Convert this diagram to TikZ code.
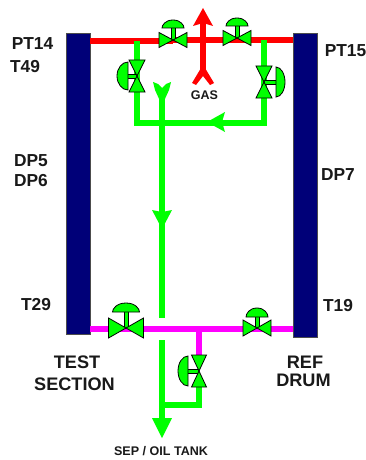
\documentclass[tikz,border=0pt]{standalone}
\usepackage{fontspec}
\setmainfont{Liberation Sans}
\definecolor{vgreen}{RGB}{0,255,0}
\definecolor{vred}{RGB}{255,0,0}
\definecolor{vmag}{RGB}{255,0,255}
\definecolor{vnavy}{RGB}{0,0,120}
\tikzset{
  vessel/.style={fill=vnavy,draw=black!70,line width=0.4pt,inner sep=0pt,outer sep=0pt,minimum width=18pt},
  gasline/.style={draw=vred,line width=4.4pt},
  oilline/.style={draw=vgreen,line width=4pt},
  magline/.style={draw=vmag,line width=4.4pt},
  valvebody/.style={fill=vgreen,draw=black,line width=0.6pt,line join=miter},
  lab/.style={font=\bfseries\fontsize{13}{15}\selectfont,text=black!90,inner sep=0pt,align=center},
  biglab/.style={font=\bfseries\fontsize{13.6}{16}\selectfont,text=black!90,inner sep=0pt,align=center},
  smalllab/.style={font=\bfseries\fontsize{9.4}{11}\selectfont,text=black!90,inner sep=0pt}
}
% #1 x, #2 y, #3 half-width, #4 half-height, #5 dome base y, #6 dome half-width, #7 dome top y
\newcommand{\upvalve}[7]{%
  \fill[vgreen] (#1-2,#2) rectangle (#1+2,#5);
  \draw[black,line width=0.5pt] (#1-2,#2) -- (#1-2,#5) (#1+2,#2) -- (#1+2,#5);
  \draw[valvebody] (#1-#6,#5) .. controls ({#1-#6},{#5+0.35*(#7-#5)}) and ({#1-0.7*#6},#7) .. (#1,#7) .. controls ({#1+0.7*#6},#7) and ({#1+#6},{#5+0.35*(#7-#5)}) .. (#1+#6,#5) -- cycle;
  \draw[valvebody] (#1-#3,#2-#4) -- (#1,#2) -- (#1-#3,#2+#4) -- cycle;
  \draw[valvebody] (#1+#3,#2-#4) -- (#1,#2) -- (#1+#3,#2+#4) -- cycle;
}
% #1 x, #2 y, #3 half-width, #4 half-height, #5 dome flat x, #6 dome half-height, #7 dome outer x
\newcommand{\sidevalve}[7]{%
  \fill[vgreen] (#1,#2-2) rectangle (#5,#2+2);
  \draw[black,line width=0.5pt] (#1,#2-2) -- (#5,#2-2) (#1,#2+2) -- (#5,#2+2);
  \draw[valvebody] (#5,#2-#6) .. controls ({#5+0.55*(#7-#5)},#2-#6) and (#7,{#2-0.55*#6}) .. (#7,#2) .. controls (#7,{#2+0.55*#6}) and ({#5+0.55*(#7-#5)},#2+#6) .. (#5,#2+#6) -- cycle;
  \draw[valvebody] (#1-#3,#2-#4) -- (#1,#2) -- (#1+#3,#2-#4) -- cycle;
  \draw[valvebody] (#1-#3,#2+#4) -- (#1,#2) -- (#1+#3,#2+#4) -- cycle;
}
\begin{document}
\begin{tikzpicture}[x=0.75pt,y=-0.75pt]
\useasboundingbox (0,0) rectangle (366,460);
\fill[white] (0,0) rectangle (366,460);

% vessels
\node[vessel,minimum height=225.75pt] (leftv) at (78,183.5) {};
\node[vessel,minimum height=228pt] (rightv) at (305,185) {};

% headers
\draw[gasline] (leftv.east |- 0,41) -- (173,41);
\draw[gasline] (173,40) -- (rightv.west |- 0,40);
\draw[magline] (leftv.east |- 0,329) -- (rightv.west |- 0,329);
\draw[magline] (199,329) -- (199,356);

% green loops
\draw[oilline,line join=miter] (137,41) -- (137,123) -- (264,123) -- (264,40);
\draw[oilline] (162,96) -- (162,318);
\draw[oilline] (162,340) -- (162,420);
\draw[oilline,line join=miter] (199,386) -- (199,405) -- (162,405);

% fork top of centre line
\fill[vgreen] (153,82) -- (158,84) -- (162,88) -- (166,84) -- (171,82) -- (169,90) -- (164,101) -- (160,101) -- (155,90) -- cycle;

% green arrowheads
\fill[vgreen] (207,122) -- (225,112) -- (222,122) -- (225,132) -- cycle;
\fill[vgreen] (162,229) -- (152,210) -- (162,212) -- (172,210) -- cycle;
\fill[vgreen] (162,438) -- (152,418) -- (172,418) -- cycle;

% gas arrow
\draw[vred,line width=4.5pt] (203,20) -- (203,72);
\fill[vred] (203,8) -- (213,26) -- (203,23) -- (193,26) -- cycle;
\fill[vred] (201,68) -- (205,68) -- (214,83) -- (210,85) -- (203,76) -- (196,85) -- (192,83) -- cycle;

% valves
\upvalve{173}{40}{14}{7.5}{28}{11}{20}
\upvalve{237}{38}{14}{7.5}{26}{11}{18}
\upvalve{126}{328}{17.5}{10}{312}{13.5}{303}
\upvalve{257}{328}{14}{8}{317}{11}{308}
\sidevalve{137}{76}{8}{16}{128}{14}{117}
\sidevalve{264}{82}{8}{16}{276}{15}{285}
\sidevalve{199}{371}{7.5}{16}{188}{15}{178}

% labels
\node[lab] (pt14) at (32.5,44) {PT14};
\node[lab] (t49) at (25,67) {T49};
\node[lab] (pt15) at (345.5,50.5) {PT15};
\node[lab] (dp5) at (31,161) {DP5};
\node[lab] (dp6) at (31,181) {DP6};
\node[lab] (dp7) at (338,174.5) {DP7};
\node[lab] (t29) at (36,305) {T29};
\node[lab] (t19) at (338,305.5) {T19};
\node[biglab] (test) at (77,362.5) {TEST};
\node[biglab] (section) at (74.5,384.5) {SECTION};
\node[biglab] (ref) at (305,362) {REF};
\node[biglab] (drum) at (303.5,380) {DRUM};
\node[smalllab] (gas) at (204.5,95.5) {GAS};
\node[smalllab] (sep) at (161,451.5) {SEP / OIL TANK};
\end{tikzpicture}
\end{document}
